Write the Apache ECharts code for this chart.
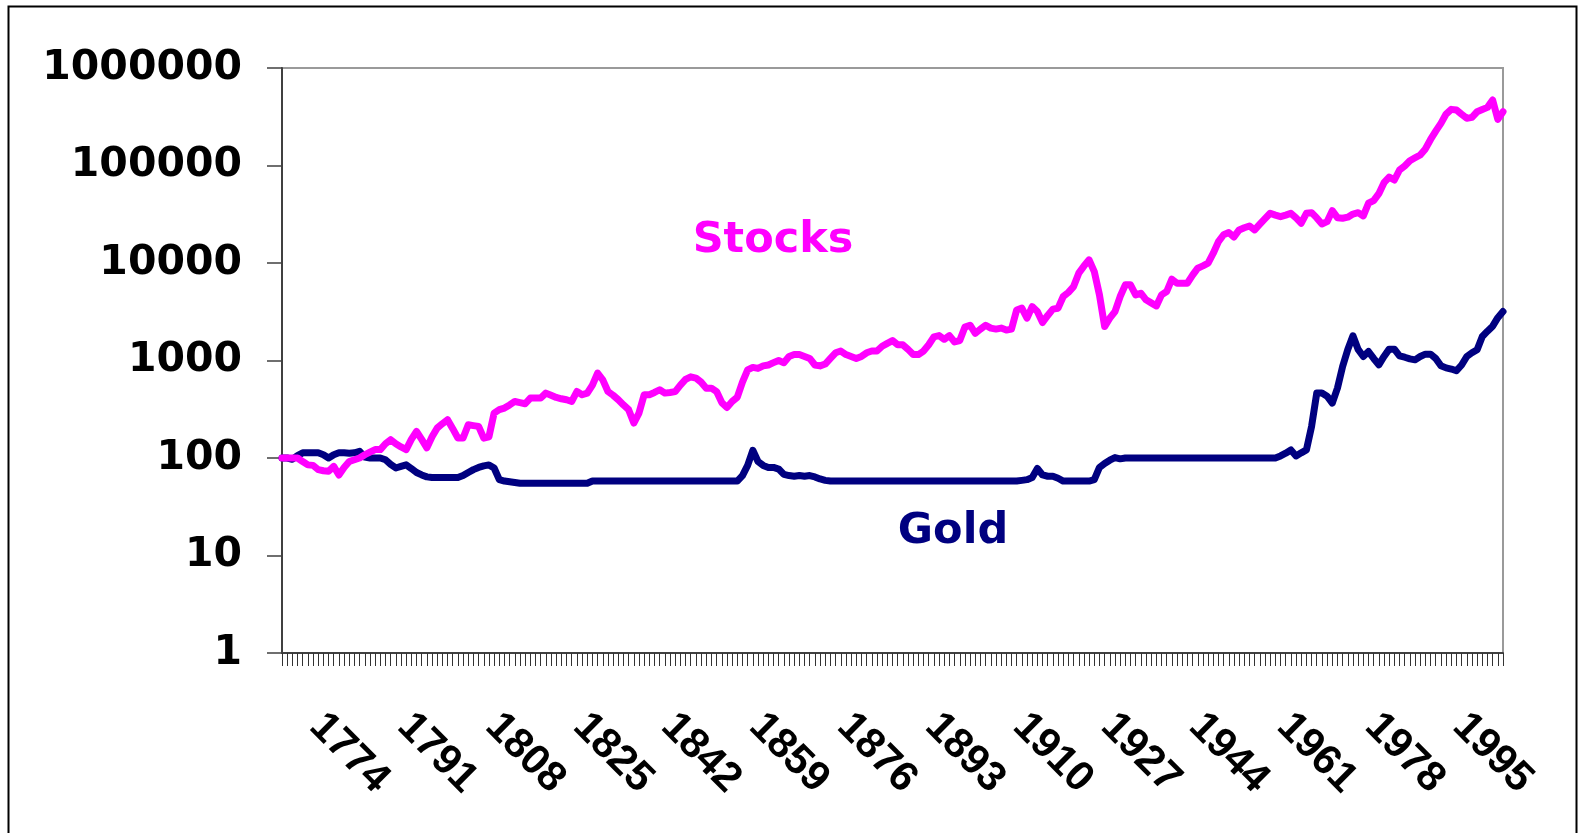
<!DOCTYPE html>
<html>
<head>
<meta charset="utf-8">
<title>Stocks vs Gold</title>
<script src="https://cdn.jsdelivr.net/npm/echarts@6.0.0/dist/echarts.min.js"></script>
<style>
  html, body { margin: 0; padding: 0; background: #fff; }
  #chart { width: 1589px; height: 833px; }
</style>
</head>
<body>
<div id="chart"></div>
<script>
  // index values, one per year, 1773 .. 2009
  const firstYear = 1773
  const stocks = [
    100, 100, 100, 100, 92, 85, 84, 76, 74, 73,            // 1773
    82, 67, 80, 92, 96, 100, 108, 115, 122, 122,           // 1783
    140, 154, 140, 130, 122, 155, 187, 155, 127, 165,      // 1793
    203, 225, 247, 200, 160, 160, 219, 215, 211, 160,      // 1803
    165, 289, 313, 325, 350, 380, 370, 360, 412, 412,      // 1813
    412, 463, 440, 418, 405, 396, 380, 481, 445, 463,      // 1823
    560, 743, 634, 481, 440, 396, 350, 313, 228, 289,      // 1833
    445, 445, 470, 501, 463, 470, 480, 560, 640, 680,      // 1843
    660, 600, 520, 520, 480, 370, 330, 380, 420, 600,      // 1853
    800, 850, 830, 880, 900, 950, 1000, 950, 1100, 1150,   // 1863
    1150, 1100, 1050, 900, 880, 920, 1050, 1200, 1250, 1150, // 1873
    1100, 1050, 1100, 1200, 1250, 1250, 1400, 1500, 1600, 1450, // 1883
    1450, 1300, 1150, 1150, 1250, 1450, 1750, 1800, 1650, 1800, // 1893
    1550, 1600, 2200, 2300, 1900, 2100, 2300, 2150, 2100, 2150, // 1903
    2050, 2100, 3300, 3440, 2716, 3573, 3177, 2449, 2900, 3365, // 1913
    3440, 4529, 5000, 5734, 7870, 9300, 10770, 8170, 4710, 2230, // 1923
    2716, 3177, 4529, 5970, 5970, 4710, 4900, 4190, 3900, 3630, // 1933
    4710, 5100, 6820, 6210, 6210, 6210, 7500, 8850, 9340, 9950, // 1943
    12600, 16560, 19500, 20500, 18500, 21830, 23000, 23990, 21830, 25000, // 1953
    28500, 32360, 31000, 29870, 31000, 32360, 29000, 25580, 32360, 32840, // 1963
    29000, 25150, 26550, 34430, 29180, 28780, 29500, 31800, 32840, 30390, // 1973
    41020, 43600, 51400, 66700, 76000, 71000, 89900, 99000, 112000, 120000, // 1983
    128200, 148000, 185000, 225000, 270600, 337000, 376500, 370500, 335000, 304700, // 1993
    312000, 355900, 375000, 394600, 469000, 297000, 355900  // 2003
  ]
  const gold = [
    100, 100, 97, 106, 113, 113, 113, 113, 108, 100,       // 1773
    108, 113, 113, 112, 113, 117, 102, 100, 100, 100,      // 1783
    96, 86, 79, 82, 85, 78, 71, 67, 64, 63,                // 1793
    63, 63, 63, 63, 63, 66, 71, 76, 80, 83,                // 1803
    85, 79, 60, 58, 57, 56, 55, 55, 55, 55,                // 1813
    55, 55, 55, 55, 55, 55, 55, 55, 55, 55,                // 1823
    58, 58, 58, 58, 58, 58, 58, 58, 58, 58,                // 1833
    58, 58, 58, 58, 58, 58, 58, 58, 58, 58,                // 1843
    58, 58, 58, 58, 58, 58, 58, 58, 58, 66,                // 1853
    84, 120, 92, 84, 80, 80, 77, 68, 66, 65,               // 1863
    66, 65, 66, 64, 61, 59, 58, 58, 58, 58,                // 1873
    58, 58, 58, 58, 58, 58, 58, 58, 58, 58,                // 1883
    58, 58, 58, 58, 58, 58, 58, 58, 58, 58,                // 1893
    58, 58, 58, 58, 58, 58, 58, 58, 58, 58,                // 1903
    58, 58, 58, 59, 60, 63, 78, 67, 65, 65,                // 1913
    62, 58, 58, 58, 58, 58, 58, 60, 80, 88,                // 1923
    95, 101, 98, 100, 100, 100, 100, 100, 100, 100,        // 1933
    100, 100, 100, 100, 100, 100, 100, 100, 100, 100,      // 1943
    100, 100, 100, 100, 100, 100, 100, 100, 100, 100,      // 1953
    100, 100, 100, 105, 112, 121, 105, 113, 121, 211,      // 1963
    463, 463, 430, 366, 521, 868, 1300, 1791, 1300, 1099,  // 1973
    1236, 1050, 903, 1100, 1308, 1308, 1117, 1080, 1040, 1016, // 1983
    1100, 1162, 1162, 1050, 883, 840, 817, 784, 900, 1099, // 1993
    1200, 1288, 1762, 2000, 2250, 2750, 3177               // 2003
  ]
  const years = stocks.map((v, i) => String(firstYear + i))
  const yTickLabels = ['1', '10', '100', '1000', '10000', '100000', '1000000']
  const labelFirstYear = 1774
  const labelStep = 17

  const chart = echarts.init(document.getElementById('chart'))
  chart.setOption({
    animation: false,
    backgroundColor: '#fff',
    grid: {
      left: 282,
      right: 86,
      top: 68,
      bottom: 180,
      show: true,
      borderColor: '#9a9a9a',
      borderWidth: 2,
      outerBoundsMode: 'none'
    },
    xAxis: {
      type: 'category',
      data: years,
      boundaryGap: false,
      axisLine: { lineStyle: { color: '#404040', width: 2 } },
      axisTick: {
        interval: 0,
        length: 13,
        lineStyle: { color: '#333', width: 1 }
      },
      axisLabel: {
        interval: (index, value) => (Number(value) - labelFirstYear) % labelStep === 0,
        rotate: -45,
        margin: 38,
        padding: [0, 0, 0, 41],
        color: '#000',
        fontFamily: '"Liberation Sans", Arial, sans-serif',
        fontWeight: 'bold',
        fontSize: 42
      },
      splitLine: { show: false }
    },
    yAxis: {
      type: 'log',
      logBase: 10,
      min: 1,
      max: 1000000,
      axisLine: { show: true, lineStyle: { color: '#404040', width: 2 } },
      axisTick: { show: true, length: 15, lineStyle: { color: '#404040', width: 1.5 } },
      axisLabel: {
        margin: 40,
        color: '#000',
        fontFamily: '"DejaVu Sans"',
        fontWeight: 'bold',
        fontSize: 41,
        formatter: value => yTickLabels[Math.round(Math.log10(value))]
      },
      splitLine: { show: false }
    },
    series: [
      {
        name: 'Gold',
        type: 'line',
        data: gold,
        symbol: 'none',
        lineStyle: { color: '#000080', width: 7, cap: 'round', join: 'round' },
        z: 2
      },
      {
        name: 'Stocks',
        type: 'line',
        data: stocks,
        symbol: 'none',
        lineStyle: { color: '#FF00FF', width: 7, cap: 'round', join: 'round' },
        z: 3
      }
    ],
    graphic: [
      {
        type: 'rect',
        silent: true,
        shape: { x: 8.5, y: 6.5, width: 1568, height: 900 },
        style: { fill: 'none', stroke: '#000', lineWidth: 2 }
      },
      {
        type: 'text',
        x: 773,
        y: 241,
        style: {
          text: 'Stocks',
          fill: '#FF00FF',
          font: 'bold 43px "DejaVu Sans"',
          textAlign: 'center',
          textVerticalAlign: 'middle'
        }
      },
      {
        type: 'text',
        x: 953,
        y: 532,
        style: {
          text: 'Gold',
          fill: '#000080',
          font: 'bold 43px "DejaVu Sans"',
          textAlign: 'center',
          textVerticalAlign: 'middle'
        }
      }
    ]
  })
</script>
</body>
</html>
